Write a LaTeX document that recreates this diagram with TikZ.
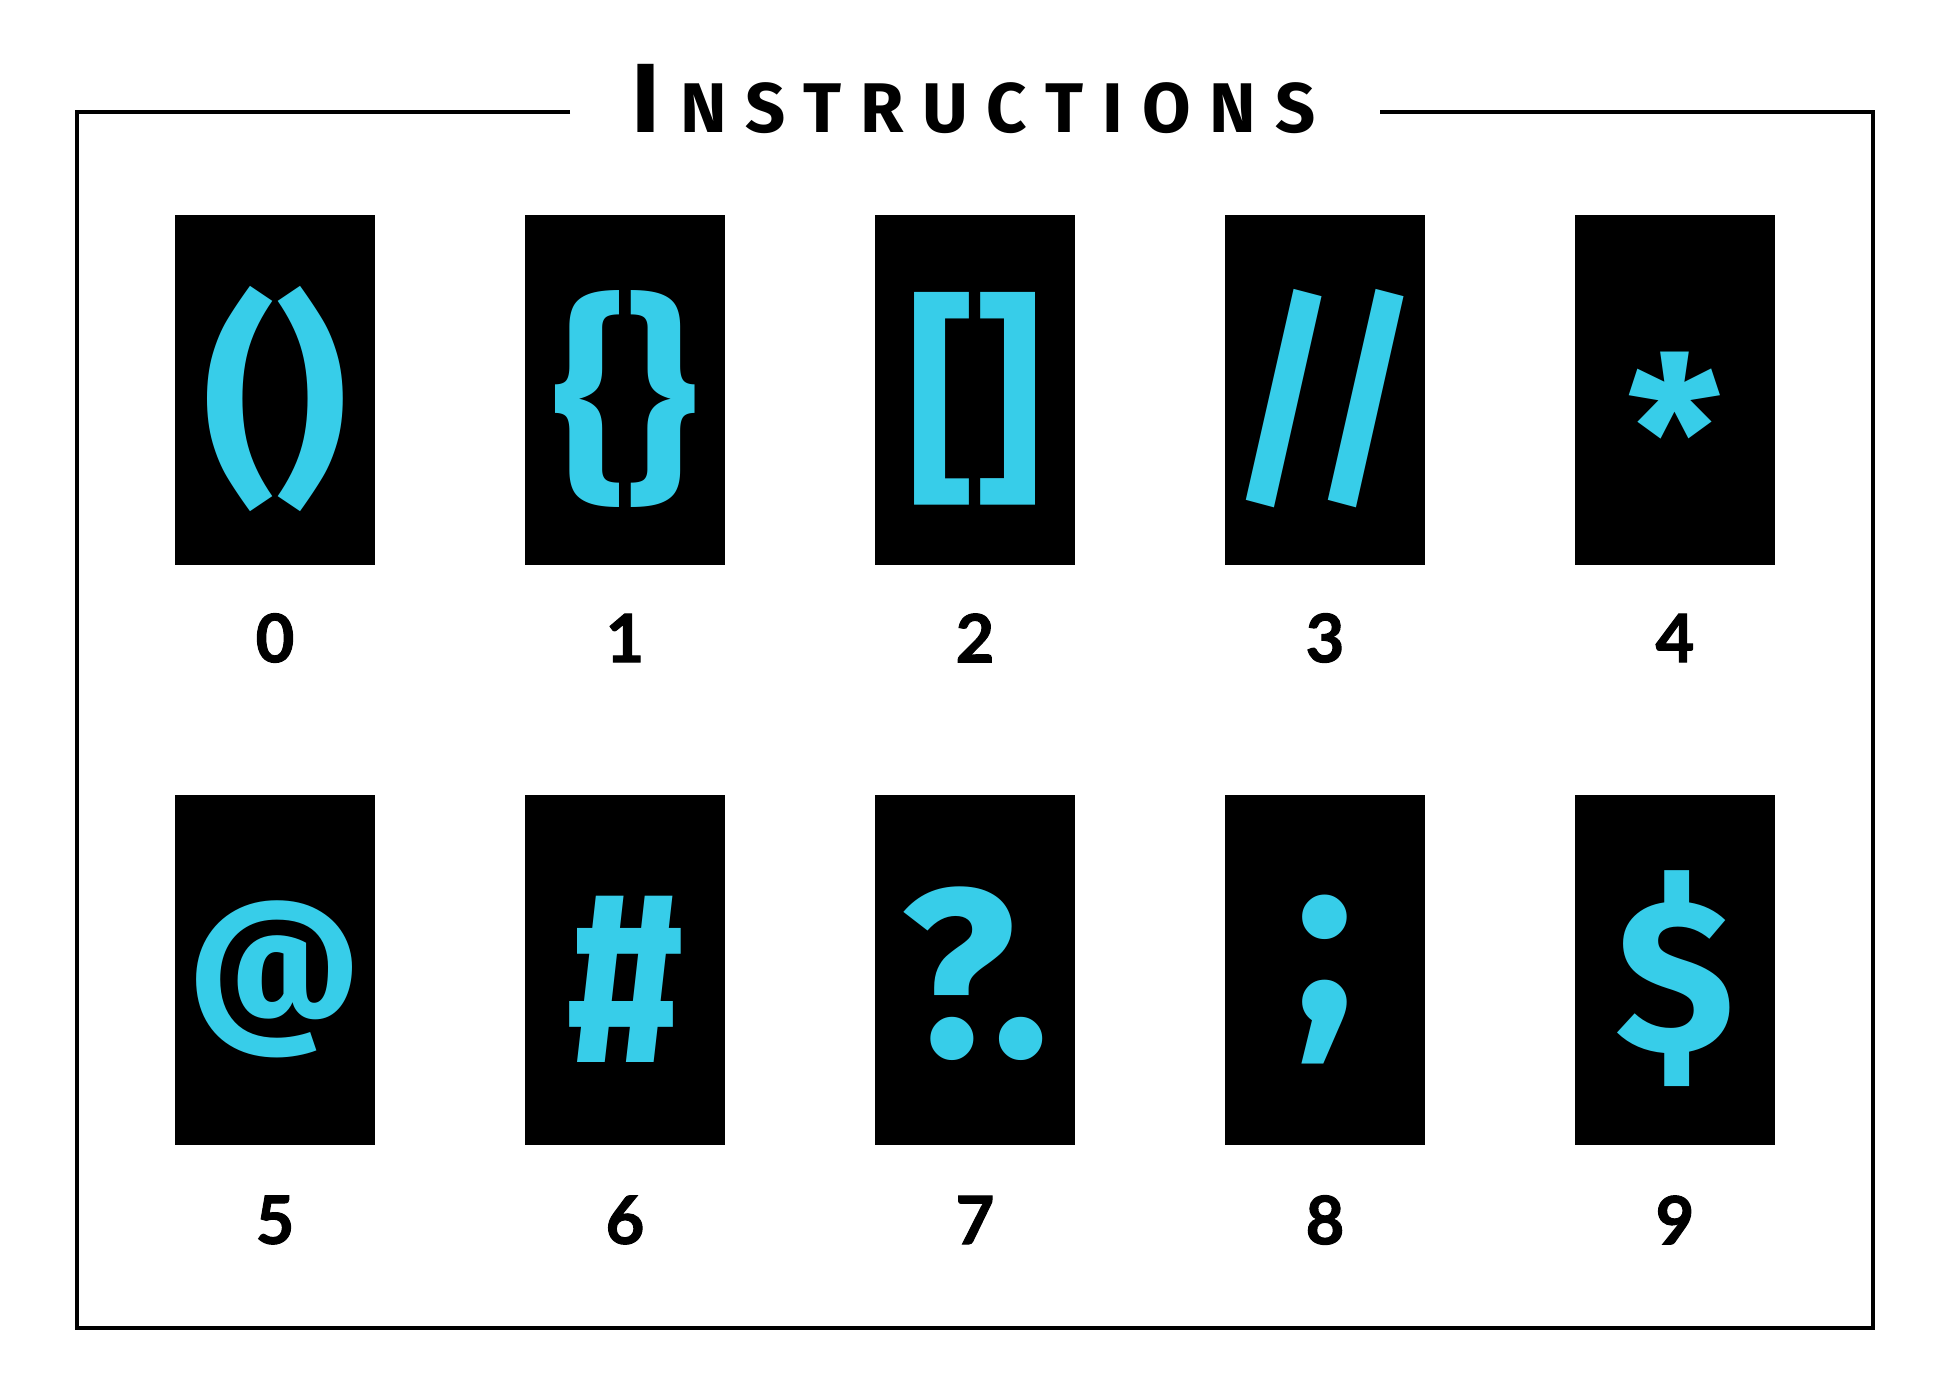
\documentclass[tikz,border=0pt]{standalone}
\usepackage{fontspec}
\setmainfont{Fira Sans}
\newfontfamily\titlefont[LetterSpace=27]{Fira Sans}
\newfontfamily\labfont[FakeBold=1.5]{Lato}
\usepackage{xcolor}
\definecolor{glyph}{HTML}{37CDE9}
\definecolor{ink}{HTML}{000000}
\usetikzlibrary{positioning}

\begin{document}
\begin{tikzpicture}[
  font=\bfseries,
  card/.style={
    fill=ink, minimum width=2cm, minimum height=3.5cm, inner sep=0pt
  },
  sym/.style={
    text=glyph, inner sep=0pt, yshift=-0.09cm
  },
  lab/.style={
    text=ink, font=\labfont\fontsize{19}{19}\selectfont\bfseries, inner sep=0pt
  },
  frame/.style={draw=ink, line width=0.9pt}
]
  \useasboundingbox (0,0) rectangle (19.5,-14);

  % title and frame
  \node[anchor=base west, inner sep=0pt] (title) at (6.31,-1.33)
    {\fontsize{28}{28}\selectfont\bfseries I\hspace{0.2em}\fontsize{20}{20}\selectfont\titlefont\bfseries NSTRUCTIONS};
  \coordinate (tl) at (5.70,-1.12);
  \coordinate (tr) at (13.80,-1.12);
  \draw[frame] (tl) -- (0.77,-1.12) -- (0.77,-13.28) -- (18.73,-13.28)
    -- (18.73,-1.12) -- (tr);

  % cards: symbol / font size / x-squeeze / extra shift
  \foreach \sym/\fs/\sx/\dy [count=\i from 0] in
      {{()}/63/1/0, {\{\}}/63/1/0, {[]}/64/0.92/0, {//}/67/0.86/0,
       {*}/60/1/-0.31, {@}/48/1/0, {\#}/70/0.86/0, {?.}/68/1/0.05,
       {;}/70/1/-0.01, {\$}/62/1/0} {
    \pgfmathtruncatemacro{\col}{mod(\i,5)}
    \pgfmathtruncatemacro{\row}{div(\i,5)}
    \node[card] (card\i) at (2.75+3.5*\col, -3.90-5.80*\row) {};
    \node[sym, font=\fontsize{\fs}{\fs}\selectfont\bfseries]
      (sym\i) at ([yshift=\dy cm]card\i) {\scalebox{\sx}[1]{\sym}};
    \node[lab] (lab\i) at (2.75+3.5*\col, -6.38-5.82*\row) {\i};
  }
\end{tikzpicture}
\end{document}
